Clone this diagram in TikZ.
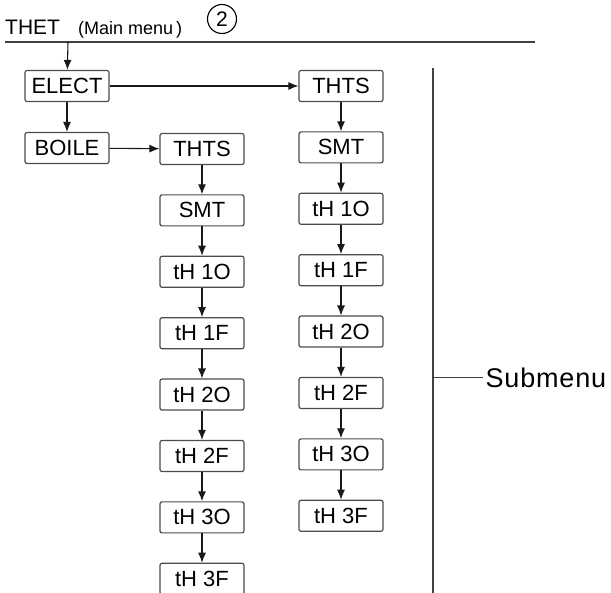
\documentclass[tikz,border=0pt]{standalone}
\usepackage{fontspec}
\setmainfont{Liberation Sans}
\usetikzlibrary{arrows.meta}

\tikzset{
  menubox/.style={draw=black!70, line width=1.2pt, rounded corners=2pt,
    minimum width=84pt, minimum height=31pt, inner sep=0pt,
    font=\fontsize{22}{22}\selectfont},
  flow/.style={-{Latex[length=10pt,width=8pt]}, line width=1.1pt, black!90},
  rule/.style={line width=1.4pt, black!75},
}

\begin{document}
\begin{tikzpicture}[x=1pt,y=-1pt]
\useasboundingbox (0,0) rectangle (611,593);
\clip (0,0) rectangle (611,593);

% header
\node[anchor=base west, inner sep=0pt, font=\fontsize{21}{21}\selectfont] (thet) at (5,35) {THET};
\node[anchor=base west, inner sep=0pt, font=\fontsize{18}{18}\selectfont] (mainmenu) at (78,35) {(Main menu\,)};
\node[draw, circle, line width=1.1pt, minimum size=29pt, inner sep=0pt, font=\fontsize{21}{21}\selectfont] (num) at (222,19) {2};
\draw[rule] (5,42) coordinate (hl) -- (535,42) coordinate (hr);
\coordinate (drop) at (68,42);

% main menu items
\node[menubox] (elect) at (67,86) {ELECT};
\node[menubox] (boile) at (67,148) {BOILE};
\draw[flow] (drop) -- (elect);
\draw[flow] (elect) -- (boile);

% submenu columns
\foreach \lbl [count=\i] in {THTS,SMT,tH 1O,tH 1F,tH 2O,tH 2F,tH 3O,tH 3F} {
  \node[menubox] (r\i) at (341,{86+61.4*(\i-1)}) {\lbl};
  \node[menubox] (l\i) at (202,{149+61.4*(\i-1)}) {\lbl};
}
\foreach \i in {2,...,8} {
  \pgfmathtruncatemacro\j{\i-1}
  \draw[flow] (r\j) -- (r\i);
  \draw[flow] (l\j) -- (l\i);
}
\draw[flow] (elect) -- (r1);
\draw[flow] (boile) -- (l1);

% submenu bracket
\draw[rule] (433,68) coordinate (vt) -- (433,600) coordinate (vb);
\coordinate (tick) at (433,378);
\node[anchor=west, inner sep=2.5pt, font=\fontsize{27}{27}\selectfont\addfontfeature{LetterSpace=3}] (sub) at (483,378) {Submenu};
\draw[line width=1pt, black!75] (tick) -- (sub.west);
\end{tikzpicture}
\end{document}
